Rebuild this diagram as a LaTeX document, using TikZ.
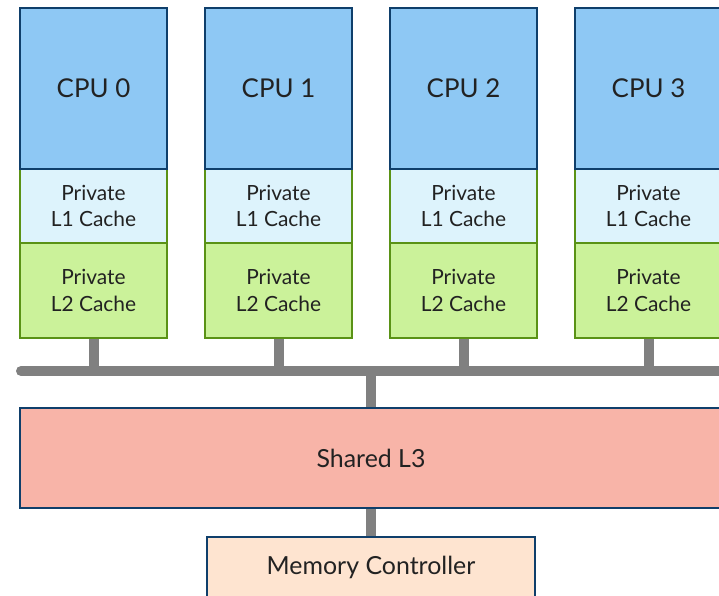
\documentclass[tikz,border=0pt]{standalone}
\usepackage{fontspec}
\setmainfont{Lato}
\usepackage{tikz}
\usetikzlibrary{positioning,calc}
\definecolor{cpublue}{HTML}{8EC8F4}
\definecolor{darkblue}{HTML}{0F3F6B}
\definecolor{lonefill}{HTML}{DDF3FC}
\definecolor{ltwofill}{HTML}{CBF29A}
\definecolor{cachegreen}{HTML}{5A9216}
\definecolor{lthreefill}{HTML}{F8B4A8}
\definecolor{memfill}{HTML}{FEE4D0}
\definecolor{busgray}{HTML}{808080}
\definecolor{textgray}{HTML}{222222}

\begin{document}
\begin{tikzpicture}[x=1bp,y=-1bp,
  cpubox/.style={draw=darkblue,fill=cpublue,line width=2.5bp,minimum width=147bp,minimum height=161bp,
    inner sep=0pt,text=textgray,font=\fontsize{26}{30}\selectfont},
  onebox/.style={draw=cachegreen,fill=lonefill,line width=2.5bp,minimum width=147bp,minimum height=74bp,
    inner sep=0pt,align=center,text=textgray,font=\fontsize{21}{27}\selectfont},
  twobox/.style={onebox,fill=ltwofill,minimum height=95bp},
  bigbox/.style={draw=darkblue,line width=2.5bp,inner sep=0pt,text=textgray,font=\fontsize{25}{30}\selectfont},
  bus/.style={busgray,line width=10bp}]
  \useasboundingbox (0,0) rectangle (719,596);
  \clip (0,0) rectangle (719,596);

  % Cores with private caches
  \foreach \i in {0,1,2,3} {
    \node[twobox] (l2c\i) at (93.5+185*\i,290.5) {Private\\L2 Cache};
    \node[onebox] (l1c\i) at (93.5+185*\i,206) {Private\\L1 Cache};
    \node[cpubox] (cpu\i) at (93.5+185*\i,88.5) {CPU \i};
  }

  % Shared cache and memory controller
  \node[bigbox,fill=lthreefill,minimum width=702bp,minimum height=100bp] (l3) at (371,458) {Shared L3};
  \node[bigbox,fill=memfill,minimum width=328bp,minimum height=60bp] (mc) at (371,567) {Memory Controller};

  % Bus
  \coordinate (busL) at (21,371);
  \coordinate (busR) at (740,371);
  \foreach \i in {0,1,2,3} {
    \draw[bus] (l2c\i.south) -- (l2c\i.south |- busL);
  }
  \draw[bus,line cap=round] (busL) -- (busR);
  \draw[bus] (l3.north |- busL) -- (l3.north);
  \draw[bus] (l3.south) -- (mc.north);
\end{tikzpicture}
\end{document}
